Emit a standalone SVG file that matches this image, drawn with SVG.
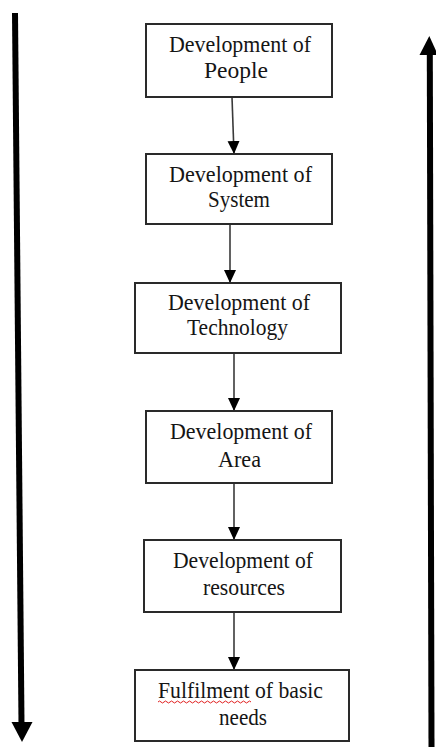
<svg xmlns="http://www.w3.org/2000/svg" width="436" height="747" viewBox="0 0 436 747">
<defs>
<style>
.box{fill:#fff;stroke:#2a2a2a;stroke-width:2}
.t{font-family:"Liberation Serif","Times New Roman",serif;font-size:24px;fill:#151515;text-anchor:middle}
.c{stroke:#3a3a3a;stroke-width:1.6;fill:none}
.big{stroke:#000;stroke-width:6;fill:none}
</style>
<marker id="ah" markerUnits="userSpaceOnUse" markerWidth="14" markerHeight="14" viewBox="0 0 14 14" refX="13" refY="7" orient="auto">
<path d="M0,1 L13,7 L0,13 Z" fill="#000"/>
</marker>
</defs>
<rect width="436" height="747" fill="#fff"/>
<g id="big-arrows">
<line class="big" x1="15" y1="13" x2="21.5" y2="724"/>
<path d="M11.5,722 L32.5,722 L22,742 Z" fill="#000"/>
<line class="big" x1="431.5" y1="747" x2="429.8" y2="52"/>
<path d="M419.5,55 L438,55 L429.3,36 Z" fill="#000"/>
</g>
<g id="connectors">
<line class="c" x1="232" y1="97" x2="234" y2="154" marker-end="url(#ah)"/>
<line class="c" x1="230" y1="224" x2="230" y2="283" marker-end="url(#ah)"/>
<line class="c" x1="234" y1="353" x2="234" y2="411" marker-end="url(#ah)"/>
<line class="c" x1="234" y1="483" x2="234" y2="540" marker-end="url(#ah)"/>
<line class="c" x1="234" y1="612" x2="234" y2="670" marker-end="url(#ah)"/>
</g>
<g id="n1">
<rect class="box" x="146" y="24" width="186" height="73"/>
<text class="t" x="240" y="52" textLength="142" lengthAdjust="spacingAndGlyphs">Development of</text>
<text class="t" x="236" y="78" textLength="64" lengthAdjust="spacingAndGlyphs">People</text>
</g>
<g id="n2">
<rect class="box" x="146" y="154" width="186" height="70"/>
<text class="t" x="240.5" y="182" textLength="143" lengthAdjust="spacingAndGlyphs">Development of</text>
<text class="t" x="239" y="207" textLength="62" lengthAdjust="spacingAndGlyphs">System</text>
</g>
<g id="n3">
<rect class="box" x="135" y="283" width="206" height="70"/>
<text class="t" x="239" y="310" textLength="142" lengthAdjust="spacingAndGlyphs">Development of</text>
<text class="t" x="237.5" y="335" textLength="101" lengthAdjust="spacingAndGlyphs">Technology</text>
</g>
<g id="n4">
<rect class="box" x="146" y="411" width="186" height="72"/>
<text class="t" x="241" y="439" textLength="142" lengthAdjust="spacingAndGlyphs">Development of</text>
<text class="t" x="239.5" y="467" textLength="43" lengthAdjust="spacingAndGlyphs">Area</text>
</g>
<g id="n5">
<rect class="box" x="144" y="540" width="197" height="72"/>
<text class="t" x="243" y="568" textLength="140" lengthAdjust="spacingAndGlyphs">Development of</text>
<text class="t" x="244" y="595" textLength="82" lengthAdjust="spacingAndGlyphs">resources</text>
</g>
<g id="n6">
<rect class="box" x="135" y="670" width="214" height="71"/>
<text class="t" x="240.5" y="698" textLength="165" lengthAdjust="spacingAndGlyphs">Fulfilment of basic</text>
<text class="t" x="243" y="725" textLength="48" lengthAdjust="spacingAndGlyphs">needs</text>
<path d="M158,702 q1.5,-2 3,0 t3,0 t3,0 t3,0 t3,0 t3,0 t3,0 t3,0 t3,0 t3,0 t3,0 t3,0 t3,0 t3,0 t3,0 t3,0 t3,0 t3,0 t3,0 t3,0 t3,0 t3,0 t3,0 t3,0 t3,0 t3,0 t3,0 t3,0 t3,0 t3,0 t3,0" fill="none" stroke="#e02020" stroke-width="1"/>
</g>
</svg>
